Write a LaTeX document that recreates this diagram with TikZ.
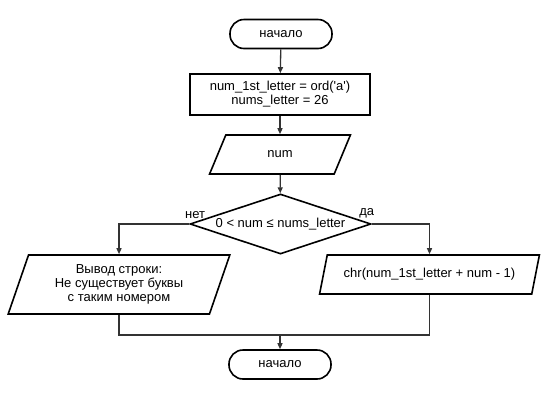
\documentclass[tikz,border=0pt]{standalone}
\usepackage{fontspec}
\setmainfont{Liberation Sans}
\usetikzlibrary{shapes.geometric}
\usetikzlibrary{arrows.meta}
\usetikzlibrary{positioning}

\tikzset{
  block/.style={draw, line width=1.6pt, inner sep=0pt, align=center,
    font=\fontsize{13}{14}\selectfont},
  startstop/.style={block, rounded corners=14pt, minimum width=102pt, minimum height=29pt},
  process/.style={block, minimum width=180pt, minimum height=41pt},
  inout/.style={block, trapezium, trapezium stretches=true,
    trapezium left angle=62, trapezium right angle=118},
  decision/.style={block, diamond, minimum width=181pt, minimum height=60pt},
  conn/.style={line width=1.3pt, draw=black!80},
  arr/.style={conn, -{Triangle[length=6pt,width=5pt]}},
  branch/.style={font=\fontsize{13}{14}\selectfont, inner sep=0pt},
}

\begin{document}
\begin{tikzpicture}[x=1pt, y=-1pt]
  \useasboundingbox (0,0) rectangle (550,400);

  % blocks
  \node[startstop] (start) at (281,34) {начало};
  \node[process] (init) at (280,94.5)
    {num\_1st\_letter = ord(\textquotesingle a\textquotesingle)\\nums\_letter = 26};
  \node[inout, minimum width=141pt, minimum height=39pt] (innum) at (280,154.5) {num};
  \node[decision, label={[branch]center:0 < num ≤ nums\_letter}] (check) at (280.5,224) {};
  \node[inout, minimum width=222pt, minimum height=59pt,
    trapezium left angle=70, trapezium right angle=110] (outno) at (119,284.5)
    {Вывод строки:\\Не существует буквы\\с таким номером};
  \node[inout, minimum width=220pt, minimum height=39pt] (outyes) at (429.5,274.5)
    {chr(num\_1st\_letter + num - 1)};
  \node[startstop] (stop) at (280,364.5) {начало};
  \coordinate (join) at (280,335);

  % connectors
  \draw[arr] (start) -- (init);
  \draw[arr] (init) -- (innum);
  \draw[arr] (innum) -- (check);
  \draw[arr] (check.west) -| (outno.north)
    node[branch, pos=0, above=5pt, xshift=6pt] {нет};
  \draw[arr] (check.east) -| (outyes.north)
    node[branch, pos=0, above=5pt, xshift=-5pt] {да};
  \draw[conn] (outno.south) |- (join);
  \draw[conn] (outyes.south) |- (join);
  \draw[arr] (join) -- (stop);
\end{tikzpicture}
\end{document}
